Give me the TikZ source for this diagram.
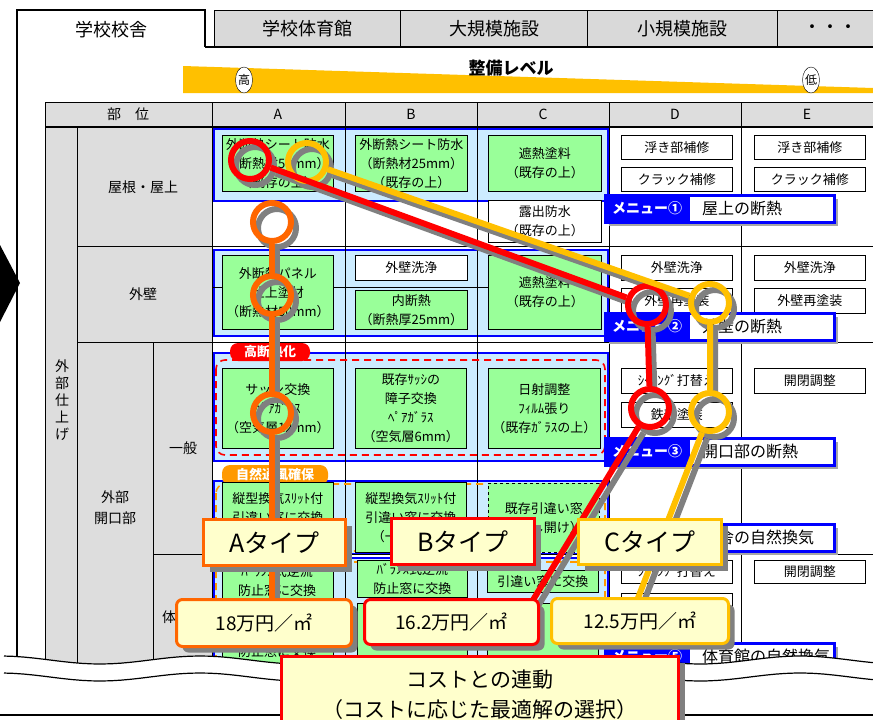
\documentclass[tikz,border=0pt]{standalone}
\usepackage{fontspec}
\setmainfont{Noto Sans CJK JP}
\usetikzlibrary{shapes.geometric,shadows,calc}
\definecolor{tabgray}{HTML}{D9D9D9}
\definecolor{hdrgray}{HTML}{DDDDDD}
\definecolor{wedgec}{HTML}{FFC000}
\definecolor{grpblue}{HTML}{CCECFF}
\definecolor{cellgreen}{HTML}{99FF99}
\definecolor{mblue}{HTML}{0000FF}
\definecolor{ored}{HTML}{FF0000}
\definecolor{oorange}{HTML}{FF6600}
\definecolor{oyellow}{HTML}{FFC000}
\definecolor{lyellow}{HTML}{FFFFCC}
\definecolor{shgray}{HTML}{808080}
\definecolor{ventorange}{HTML}{FF9900}
\tikzset{
 t13/.style={font=\fontsize{13pt}{19pt}\selectfont},
 t14/.style={font=\fontsize{14pt}{18pt}\selectfont},
 sz/.style n args={2}{minimum width=#1pt, minimum height=#2pt},
 cellbase/.style={draw=black, line width=0.7pt, align=center, inner sep=0pt, anchor=north west, t13},
 gbox/.style={cellbase, fill=cellgreen},
 wbox/.style={cellbase, fill=white},
 grp/.style={draw=mblue, line width=2pt, fill=grpblue, anchor=north west, inner sep=0pt},
 tabbox/.style={draw=black, line width=1.2pt, fill=tabgray, anchor=north west, inner sep=0pt, font=\fontsize{18pt}{18pt}\selectfont},
 pill/.style={rounded corners=8pt, text=white, font=\bfseries\fontsize{13pt}{13pt}\selectfont, inner sep=0pt},
 mframe/.style={draw=mblue, line width=2.5pt, fill=white, anchor=north west, inner sep=0pt, minimum width=229pt, minimum height=27pt, drop shadow={shadow xshift=4pt, shadow yshift=-4pt, fill=shgray!70, opacity=1}},
 mleft/.style={fill=mblue, anchor=north west, inner sep=0pt, minimum width=86pt, minimum height=27pt, text=white, font=\bfseries\fontsize{14pt}{14pt}\selectfont},
 mtext/.style={anchor=west, inner sep=0pt, font=\fontsize{16pt}{16pt}\selectfont},
 ring/.style={circle, draw=#1, line width=6pt, minimum size=38pt, inner sep=0pt},
 link/.style={draw=#1, line width=6pt},
 tbox/.style={draw=#1, line width=3pt, fill=lyellow, anchor=north west, inner sep=0pt, align=center, font=\fontsize{25pt}{25pt}\selectfont, drop shadow={shadow xshift=6pt, shadow yshift=-6pt, fill=shgray, opacity=1}},
 pbox/.style={tbox=#1, rounded corners=6pt, font=\fontsize{19pt}{19pt}\selectfont},
 lbl/.style={t14, align=center, inner sep=0pt},
}
\begin{document}
\begin{tikzpicture}[x=1pt,y=-1pt]
\useasboundingbox (0,0) rectangle (873,720);
\clip (0,0) rectangle (873,720);
\fill[white] (0,0) rectangle (873,720);
% ---------- tabs
\node[tabbox, sz={186}{37}] (t2) at (214,10) {学校体育館};
\node[tabbox, sz={187}{37}] (t3) at (400,10) {大規模施設};
\node[tabbox, sz={190}{37}] (t4) at (587,10) {小規模施設};
\node[tabbox, sz={110}{37}] (t5) at (777,10) {};
\node[font=\fontsize{18pt}{18pt}\selectfont, inner sep=0pt] (t5t) at (830,29) {・・・};
\draw[line width=2pt] (205,47) -- (873,47);
\fill[white] (17,10) rectangle (205,49);
\draw[line width=1.2pt] (17,660) -- (17,10) -- (205,10) -- (205,47);
\node[font=\fontsize{18pt}{18pt}\selectfont] (t1) at (111,30) {学校校舎};
% ---------- level wedge
\fill[wedgec] (183,66) -- (873,88) -- (873,93) -- (183,93) -- cycle;
\node[font=\bfseries\fontsize{17pt}{17pt}\selectfont] (lvl) at (511,68) {整備レベル};
\node[draw, ellipse, fill=white, inner sep=0pt, minimum width=17pt, minimum height=26pt, font=\fontsize{12pt}{12pt}\selectfont] (hi) at (244,80) {高};
\node[draw, ellipse, fill=white, inner sep=0pt, minimum width=17pt, minimum height=26pt, font=\fontsize{12pt}{12pt}\selectfont] (lo) at (811,80) {低};
% ---------- table background
\fill[hdrgray] (45,102) rectangle (873,127);
\fill[hdrgray] (45,127) rectangle (212,700);
% ---------- groups
\node[grp, sz={394}{72}] (g1) at (213,128) {};
\node[grp, sz={394}{86}] (g2) at (213,249) {};
\node[grp, sz={394}{108}] (g3) at (213,352) {};
\node[grp, sz={394}{73}] (g4) at (213,480) {};
\node[grp, sz={394}{130}] (g5) at (213,557) {};
% ---------- grid
\begin{scope}[line width=0.8pt]
\draw (45,102) -- (873,102);
\draw[line width=1.4pt] (45,127) -- (873,127);
\draw (77,246) -- (873,246);
\draw (77,342) -- (873,342);
\draw (153,554) -- (873,554);
\draw (212,287) -- (609,287);
\foreach \xx in {45,212,345,477,609,741} {\draw (\xx,102) -- (\xx,700);}
\draw (77,127) -- (77,700);
\draw (153,342) -- (153,700);
\end{scope}
% ---------- header labels
\node[lbl] (hbu) at (128,114) {部\hspace{1em}位};
\node[lbl] (hA) at (278,114) {A};
\node[lbl] (hB) at (411,114) {B};
\node[lbl] (hC) at (543,114) {C};
\node[lbl] (hD) at (675,114) {D};
\node[lbl] (hE) at (807,114) {E};
\node[lbl] (lroof) at (143,187) {屋根・屋上};
\node[lbl] (lwall) at (143,294) {外壁};
\node[lbl, font=\fontsize{14pt}{17pt}\selectfont] (lfin) at (62,400) {外\\部\\仕\\上\\げ};
\node[lbl, font=\fontsize{14pt}{21pt}\selectfont] (lopen) at (115,508) {外部\\開口部};
\node[lbl] (lgen) at (183,448) {一般};
\node[lbl] (lgym) at (183,617) {体育館};
% ---------- dashed group outlines and pills
\draw[ored, line width=1.6pt, dash pattern=on 7pt off 5pt, rounded corners=9pt] (216,360) rectangle (605,455);
\node[pill, fill=ored, sz={80}{18}] (pHi) at (270,352) {高断熱化};
\draw[ventorange, line width=1.6pt, dash pattern=on 7pt off 5pt, rounded corners=9pt] (216,484) rectangle (605,551);
\draw[ventorange, line width=1.6pt, dash pattern=on 7pt off 5pt, rounded corners=9pt] (216,562) rectangle (605,700);
\node[pill, fill=ventorange, sz={106}{20}] (pVent) at (275,475) {自然通風確保};
% ---------- row 1
\node[gbox, sz={111}{56}] (a1) at (222,135) {外断熱シート防水\\（断熱材50mm）\\（既存の上）};
\node[gbox, sz={112}{56}] (b1) at (355,135) {外断熱シート防水\\（断熱材25mm）\\（既存の上）};
\node[gbox, sz={113}{56}] (c1) at (488,135) {遮熱塗料\\（既存の上）};
\node[wbox, sz={113}{42}] (c1b) at (488,200) {露出防水\\（既存の上）};
\node[wbox, sz={111}{24}] (d1a) at (621,135) {浮き部補修};
\node[wbox, sz={111}{24}] (d1b) at (621,167) {クラック補修};
\node[wbox, sz={111}{24}] (e1a) at (754,135) {浮き部補修};
\node[wbox, sz={111}{24}] (e1b) at (754,167) {クラック補修};
% ---------- row 2
\node[gbox, sz={111}{74}] (a2) at (222,255) {外断熱パネル\\仕上塗材\\（断熱材50mm）};
\node[wbox, sz={112}{25}] (b2a) at (355,255) {外壁洗浄};
\node[gbox, sz={112}{39}] (b2b) at (355,290) {内断熱\\（断熱厚25mm）};
\node[gbox, sz={113}{74}] (c2) at (488,255) {遮熱塗料\\（既存の上）};
\node[wbox, sz={111}{25}] (d2a) at (621,255) {外壁洗浄};
\node[wbox, sz={111}{25}] (d2b) at (621,288) {外壁再塗装};
\node[wbox, sz={111}{25}] (e2a) at (754,255) {外壁洗浄};
\node[wbox, sz={111}{25}] (e2b) at (754,288) {外壁再塗装};
% ---------- row 3
\node[gbox, sz={111}{80}] (a3) at (222,368) {サッシ交換\\ﾍﾟｱｶﾞﾗｽ\\（空気層12mm）};
\node[gbox, sz={111}{80}] (b3) at (355,368) {既存ｻｯｼの\\障子交換\\ﾍﾟｱｶﾞﾗｽ\\（空気層6mm）};
\node[gbox, sz={112}{80}] (c3) at (488,368) {日射調整\\ﾌｨﾙﾑ張り\\（既存ｶﾞﾗｽの上）};
\node[wbox, sz={111}{25}] (d3a) at (621,368) {ｼｰﾘﾝｸﾞ打替え};
\node[wbox, sz={111}{25}] (d3b) at (621,402) {鉄部塗装};
\node[wbox, sz={111}{25}] (e3a) at (754,368) {開閉調整};
% ---------- row 4
\node[gbox, sz={111}{70}] (a4) at (222,482) {縦型換気ｽﾘｯﾄ付\\引違い窓に交換\\\mbox{}};
\node[gbox, sz={111}{70}] (b4) at (355,482) {縦型換気ｽﾘｯﾄ付\\引違い窓に交換\\（一部開閉）};
\node[gbox, dashed, sz={111}{69}] (c4) at (488,483) {既存引違い窓\\（少し開け）};
% ---------- row 5
\node[gbox, sz={111}{140}] (a5) at (222,562) {};
\node[t13, align=center, inner sep=0pt] (a5t) at (277,581) {ﾊﾞﾗﾝｽ式逆流\\防止窓に交換};
\node[t13, inner sep=0pt] (a5u) at (277,652) {防止窓に交換};
\node[gbox, sz={110}{37}] (b5) at (357,560) {ﾊﾞﾗﾝｽ式逆流\\防止窓に交換};
\node[gbox, sz={110}{100}] (b5b) at (357,603) {};
\node[gbox, sz={111}{22}] (c5) at (487,570) {引違い窓に交換};
\node[gbox, sz={111}{100}] (c5b) at (487,603) {};
\node[wbox, sz={111}{23}] (d5a) at (621,560) {ｼｰﾘﾝｸﾞ打替え};
\node[wbox, sz={111}{25}] (d5b) at (621,593) {};
\node[wbox, sz={111}{23}] (e5a) at (754,560) {開閉調整};
% ---------- menus
\node[mframe] (m1) at (604,194) {};
\node[mleft] (m1l) at (604,194) {メニュー①};
\node[mtext] (m1t) at (702,208) {屋上の断熱};
\node[mframe] (m2) at (604,312) {};
\node[mleft] (m2l) at (604,312) {メニュー②};
\node[mtext] (m2t) at (702,326) {外壁の断熱};
\node[mframe] (m3) at (604,437) {};
\node[mleft] (m3l) at (604,437) {メニュー③};
\node[mtext] (m3t) at (702,451) {開口部の断熱};
\node[mframe] (m4) at (604,523) {};
\node[mleft] (m4l) at (604,523) {メニュー④};
\node[mtext] (m4t) at (702,537) {校舎の自然換気};
\node[mframe] (m5) at (604,642) {};
\node[mleft] (m5l) at (604,642) {メニュー⑤};
\node[mtext] (m5t) at (702,656) {体育館の自然換気};
% ---------- overlay shadows
\begin{scope}[shift={(5,6)}]
\node[ring=shgray] (so1) at (272,222) {};
\node[ring=shgray] (so2) at (272,295) {};
\node[ring=shgray] (so3) at (272,413) {};
\coordinate (soE) at (272,600);
\node[ring=shgray] (srA) at (250,160) {};
\node[ring=shgray] (srD2) at (647,305) {};
\node[ring=shgray] (srD3) at (650,408) {};
\coordinate (srE) at (533,600);
\node[ring=shgray] (syA) at (307,162) {};
\node[ring=shgray] (syD2) at (710,303) {};
\node[ring=shgray] (syD3) at (710,412) {};
\coordinate (syE) at (638,598);
\draw[link=shgray] (so1) -- (so2) -- (so3) -- (soE);
\draw[link=shgray] (srA) -- (srD2) -- (srD3) -- (srE);
\draw[link=shgray] (syA) -- (syD2) -- (syD3) -- (syE);
\end{scope}
% ---------- overlay colored
\node[ring=oorange] (o1) at (272,222) {};
\node[ring=oorange] (o2) at (272,295) {};
\node[ring=oorange] (o3) at (272,413) {};
\coordinate (oE) at (272,600);
\node[ring=ored] (rA) at (250,160) {};
\node[ring=ored] (rD2) at (647,305) {};
\node[ring=ored] (rD3) at (650,408) {};
\coordinate (rE) at (533,600);
\node[ring=oyellow] (yA) at (307,162) {};
\node[ring=oyellow] (yD2) at (710,303) {};
\node[ring=oyellow] (yD3) at (710,412) {};
\coordinate (yE) at (638,598);
\draw[link=oorange] (o1) -- (o2) -- (o3) -- (oE);
\draw[link=ored] (rA) -- (rD2) -- (rD3) -- (rE);
\draw[link=oyellow] (yA) -- (yD2) -- (yD3) -- (yE);
% ---------- wavy break
\fill[white] plot[domain=0:873, samples=90] (\x, {660-4*cos(1.8*\x)}) -- (873,720) -- (0,720) -- cycle;
\draw[line width=1.2pt] plot[domain=4:873, samples=90] (\x, {660-4*cos(1.8*\x)});
\draw[line width=1.2pt] plot[domain=4:873, samples=90] (\x, {677-4*cos(1.8*\x)});
\draw[line width=1.2pt] (0,715) -- (873,715);
% ---------- types
\node[tbox=oorange, sz={142}{46}] (tA) at (202,518) {Aタイプ};
\node[tbox=ored, sz={143}{46}] (tB) at (390,517) {Bタイプ};
\node[tbox=oyellow, sz={143}{45}] (tC) at (577,518) {Cタイプ};
\node[pbox=oorange, sz={175}{47}] (p18) at (175,598) {18万円／㎡};
\node[pbox=ored, sz={174}{45}] (p16) at (363,598) {16.2万円／㎡};
\node[pbox=oyellow, sz={177}{45}] (p12) at (550,597) {12.5万円／㎡};
\node[tbox=ored, sz={397}{76}, font=\fontsize{21pt}{30pt}\selectfont] (cost) at (280,655) {コストとの連動\\（コストに応じた最適解の選択）};
% ---------- left arrow tip
\fill[black] (0,245) -- (20,283) -- (0,322) -- cycle;
\end{tikzpicture}
\end{document}
